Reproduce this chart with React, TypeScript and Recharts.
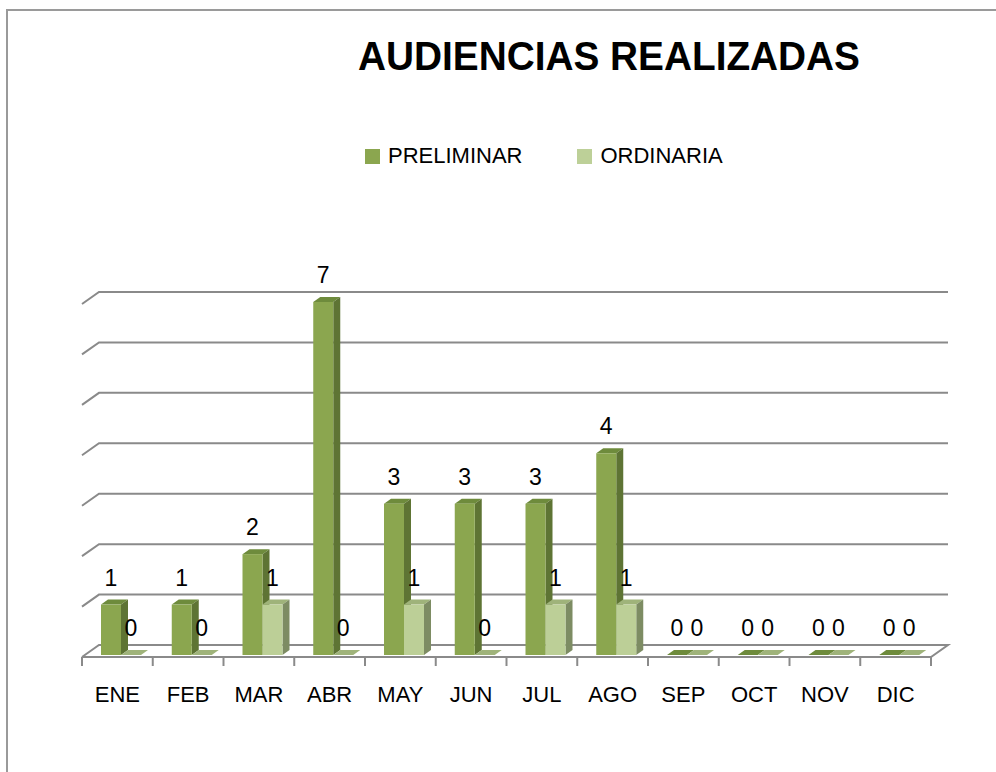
import React from 'react';
import { BarChart, Bar, XAxis, YAxis, CartesianGrid } from 'recharts';

const months = ['ENE', 'FEB', 'MAR', 'ABR', 'MAY', 'JUN', 'JUL', 'AGO', 'SEP', 'OCT', 'NOV', 'DIC'];
const preliminar = [1, 1, 2, 7, 3, 3, 3, 4, 0, 0, 0, 0];
const ordinaria = [0, 0, 1, 0, 1, 0, 1, 1, 0, 0, 0, 0];
const yTicks = [0, 1, 2, 3, 4, 5, 6, 7];

const FONT = '"Liberation Sans", Arial, sans-serif';
const GRID = '#8a8a8a';
const PLOT_LEFT = 82;
const PLOT_RIGHT = 65;
const CHART_W = 996;
// wall depth and bar depth (3D look)
const WX = 17;
const WY = 12;
const BX = 7;
const BY = 5;
const SHIFT_X = 4;
const SHIFT_Y = -2;

const chartData = months.map((mes, i) => ({
  mes,
  preliminar: preliminar[i],
  ordinaria: ordinaria[i],
}));

const make3DBar = (front: string, side: string, top: string) => (props: any) => {
  const { x, y, width, height } = props;
  if (x == null || y == null) return <g />;
  const fx = x + SHIFT_X;
  const fy = y + SHIFT_Y;
  const h = Math.max(height, 0);
  return (
    <g>
      <path d={`M${fx},${fy} L${fx + BX},${fy - BY} L${fx + width + BX},${fy - BY} L${fx + width},${fy} Z`} fill={top} />
      <path d={`M${fx + width},${fy} L${fx + width + BX},${fy - BY} L${fx + width + BX},${fy + h - BY} L${fx + width},${fy + h} Z`} fill={side} />
      <rect x={fx} y={fy} width={width} height={h} fill={front} />
    </g>
  );
};

const renderValue = (props: any) => {
  const { x, y, width, value } = props;
  return (
    <text x={x + width / 2 + SHIFT_X} y={y + SHIFT_Y - 19} textAnchor="middle" fontFamily={FONT} fontSize={23} fill="#000">
      {value}
    </text>
  );
};

const gridLine = (props: any) => {
  const { x1, x2, y1, y, height } = props;
  const isFloor = height != null && y != null && Math.abs(y1 - (y + height)) < 1;
  let d = `M${x1},${y1} L${x1 + WX},${y1 - WY} L${x2 + WX},${y1 - WY}`;
  if (isFloor) d += ` L${x2},${y1} L${x1},${y1}`;
  return <path key={props.key ?? `g-${y1}`} d={d} stroke={GRID} strokeWidth={2} fill="none" />;
};

const BAND = (CHART_W - PLOT_LEFT - PLOT_RIGHT) / months.length;

const MonthTick = (props: any) => {
  const { x, y, payload, index } = props;
  const half = payload && payload.offset ? payload.offset : BAND / 2;
  const isLast = index === months.length - 1;
  return (
    <g>
      <line x1={x - half} y1={y} x2={x - half} y2={y + 9} stroke={GRID} strokeWidth={2} />
      {isLast && <line x1={x + half} y1={y} x2={x + half} y2={y + 9} stroke={GRID} strokeWidth={2} />}
      <text x={x} y={y + 45} textAnchor="middle" fontFamily={FONT} fontSize={22} fill="#000">
        {payload.value}
      </text>
    </g>
  );
};

const legendItems = [
  { name: 'PRELIMINAR', color: '#8BA64F' },
  { name: 'ORDINARIA', color: '#BDD098' },
];

const App: React.FC = () => {
  return (
    <div style={{ position: 'relative', width: 996, height: 772, background: '#fff', overflow: 'hidden' }}>
      <style>{'body{margin:0}'}</style>
      <div
        style={{
          position: 'absolute',
          left: 6,
          top: 9,
          width: 1000,
          height: 800,
          borderLeft: '2.5px solid #9a9a9a',
          borderTop: '2.5px solid #9a9a9a',
        }}
      />
      <svg style={{ position: 'absolute', left: 0, top: 0 }} width={996} height={100}>
        <text x={609} y={70} textAnchor="middle" fontFamily={FONT} fontWeight="bold" fontSize={41} textLength={502} lengthAdjust="spacingAndGlyphs" fill="#000">
          AUDIENCIAS REALIZADAS
        </text>
      </svg>
      <div style={{ position: 'absolute', left: 365, top: 143, display: 'flex', fontFamily: FONT, fontSize: 22 }}>
        {legendItems.map((it, i) => (
          <div key={it.name} style={{ display: 'flex', alignItems: 'center', marginRight: i === 0 ? 55 : 0 }}>
            <span style={{ display: 'inline-block', width: 15, height: 15, background: it.color, marginRight: 8 }} />
            <span>{it.name}</span>
          </div>
        ))}
      </div>
      <div style={{ position: 'absolute', left: 0, top: 0 }}>
        <BarChart
          width={CHART_W}
          height={772}
          data={chartData}
          margin={{ top: 304, right: PLOT_RIGHT, bottom: 75, left: PLOT_LEFT }}
          barSize={20}
          barGap={0}
        >
          <CartesianGrid vertical={false} horizontal={gridLine} />
          <XAxis
            dataKey="mes"
            height={40}
            axisLine={false}
            tickLine={false}
            tickSize={0}
            tickMargin={0}
            tick={<MonthTick />}
            interval={0}
          />
          <YAxis hide domain={[0, 7]} ticks={yTicks} type="number" />
          <Bar dataKey="preliminar" isAnimationActive={false} shape={make3DBar('#8BA64F', '#5E7434', '#6E8B3C')} label={renderValue} />
          <Bar dataKey="ordinaria" isAnimationActive={false} shape={make3DBar('#BCCF97', '#7D8C63', '#9FB37A')} label={renderValue} />
        </BarChart>
      </div>
    </div>
  );
};

export default App;
